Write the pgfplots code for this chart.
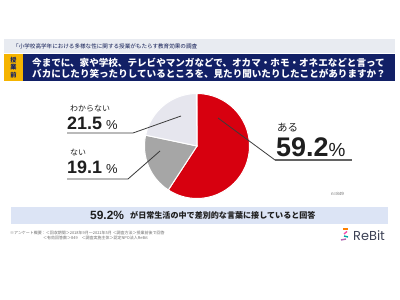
\documentclass[border=0pt]{standalone}
\usepackage{pgfplots}
\pgfplotsset{compat=1.18}
\usepackage{fontspec}
\setmainfont{Liberation Sans}
\newfontfamily\jp{Noto Sans CJK JP}
\newfontfamily\logo{Poppins}
\definecolor{pieRed}{RGB}{215,0,15}
\definecolor{pieGray}{RGB}{166,166,166}
\definecolor{pieLav}{RGB}{230,230,238}
\definecolor{navy}{RGB}{18,32,102}
\definecolor{gold}{RGB}{245,180,0}
\definecolor{hdrGray}{RGB}{232,235,241}
\definecolor{bandBlue}{RGB}{220,228,245}
\definecolor{lead}{RGB}{60,60,60}
\definecolor{txt}{RGB}{30,30,30}
\definecolor{foot}{RGB}{110,110,110}
\definecolor{logoC}{RGB}{60,65,85}
\begin{document}
\begin{tikzpicture}
% values of the pie (percent)
\def\vA{59.2}\def\vB{19.1}\def\vC{21.5}
\pgfmathsetmacro\aA{90}
\pgfmathsetmacro\aB{\aA-\vA*3.6}
\pgfmathsetmacro\aC{\aB-\vB*3.6}
\pgfmathsetmacro\aD{\aC-\vC*3.6}
\begin{scope}[x=1bp,y=1bp]
\fill[white] (0,0) rectangle (400,300);
\path[use as bounding box] (0,0) rectangle (400,300);
% header band
\fill[hdrGray] (4,247) rectangle (395,261);
\node[anchor=west,inner sep=0,text=navy!80!black,font=\jp\fontsize{5.6}{6}\selectfont] at (13,254) {「小学校高学年における多様な性に関する授業がもたらす教育効果の調査};
% yellow / navy boxes
\fill[gold] (4,219) rectangle (23,246);
\fill[navy] (23,219) rectangle (395,246);
\node[inner sep=0,text=navy,font=\jp\bfseries\fontsize{6.2}{7.8}\selectfont,align=center] at (13.5,232.5) {授\\業\\前};
\node[anchor=base west,inner sep=0,text=white,font=\jp\bfseries\fontsize{9.6}{10}\selectfont] at (32,234) {今までに、家や学校、テレビやマンガなどで、オカマ・ホモ・オネエなどと言って};
\node[anchor=base west,inner sep=0,text=white,font=\jp\bfseries\fontsize{9.6}{10}\selectfont] at (32,223) {バカにしたり笑ったりしているところを、見たり聞いたりしたことがありますか？};
% labels
\node[anchor=base west,inner sep=0,text=txt,font=\jp\fontsize{8}{8}\selectfont] at (70,189) {わからない};
\node[anchor=base west,inner sep=0,text=txt] at (67,171) {{\fontsize{18}{18}\selectfont\bfseries 21.5}\hspace{4bp}{\fontsize{13}{13}\selectfont\%}};
\node[anchor=base west,inner sep=0,text=txt,font=\jp\fontsize{8}{8}\selectfont] at (70,145) {ない};
\node[anchor=base west,inner sep=0,text=txt] at (67,127) {{\fontsize{18}{18}\selectfont\bfseries 19.1}\hspace{4bp}{\fontsize{13}{13}\selectfont\%}};
\node[anchor=base west,inner sep=0,text=txt,font=\jp\fontsize{10.5}{10.5}\selectfont] at (277,169) {ある};
\node[anchor=base west,inner sep=0,text=txt] at (276,144) {{\fontsize{27}{27}\selectfont\bfseries 59.2}{\fontsize{19}{19}\selectfont\%}};
\node[anchor=base west,inner sep=0,text=foot,font=\fontsize{4.5}{5}\selectfont] at (331,105) {n=849};
% bottom band
\fill[bandBlue] (11,76) rectangle (388,93);
\node[anchor=base west,inner sep=0,text=txt,font=\bfseries\fontsize{12}{12}\selectfont] at (90,81) {59.2\%};
\node[anchor=base west,inner sep=0,text=txt,font=\jp\bfseries\fontsize{8.1}{8.1}\selectfont] at (130,81.5) {が日常生活の中で差別的な言葉に接していると回答};
% footnote
\node[anchor=base west,inner sep=0,text=foot,font=\jp\fontsize{4}{4}\selectfont] at (10,66) {※アンケート概要：＜回収期間＞2018年9月〜2021年5月 ＜調査方法＞授業前後で回答};
\node[anchor=base west,inner sep=0,text=foot,font=\jp\fontsize{4}{4}\selectfont] at (43,60.5) {＜有効回答数＞849　＜調査実施主体＞認定NPO法人ReBit};
% logo
\draw[line width=1.4bp,orange] (343,71) -- (348,71);
\draw[line width=1.4bp,magenta!70] (347,68.5) -- (344,66);
\draw[line width=1.4bp,teal!70!cyan] (344,64) -- (348,63);
\draw[line width=1.4bp,violet!60] (346,61) -- (341,60);
\node[anchor=base west,inner sep=0,text=logoC,font=\logo\fontsize{13}{13}\selectfont] at (353,59.5) {ReBit};
\end{scope}
\begin{axis}[at={(197bp,154bp)},anchor=center,scale only axis,width=105bp,height=105bp,
  xmin=-1,xmax=1,ymin=-1,ymax=1,axis lines=none,clip=false]
\fill[pieRed,draw=white,line width=1bp] (axis cs:0,0) -- ++(\aA:52.5bp) arc[start angle=\aA,end angle=\aB,radius=52.5bp] -- cycle;
\fill[pieGray,draw=white,line width=1bp] (axis cs:0,0) -- ++(\aB:52.5bp) arc[start angle=\aB,end angle=\aC,radius=52.5bp] -- cycle;
\fill[pieLav,draw=white,line width=1bp] (axis cs:0,0) -- ++(\aC:52.5bp) arc[start angle=\aC,end angle=\aD,radius=52.5bp] -- cycle;
\end{axis}
\begin{scope}[x=1bp,y=1bp]
\draw[lead,line width=0.8bp] (67,167) -- (133,167) -- (181,184);
\draw[lead,line width=0.8bp] (67,121) -- (128,121) -- (160,149);
\draw[lead,line width=0.8bp] (218,182) -- (275,140);
\draw[lead!80,line width=1.3bp] (275,140) -- (352,140);
\end{scope}
\end{tikzpicture}
\end{document}
